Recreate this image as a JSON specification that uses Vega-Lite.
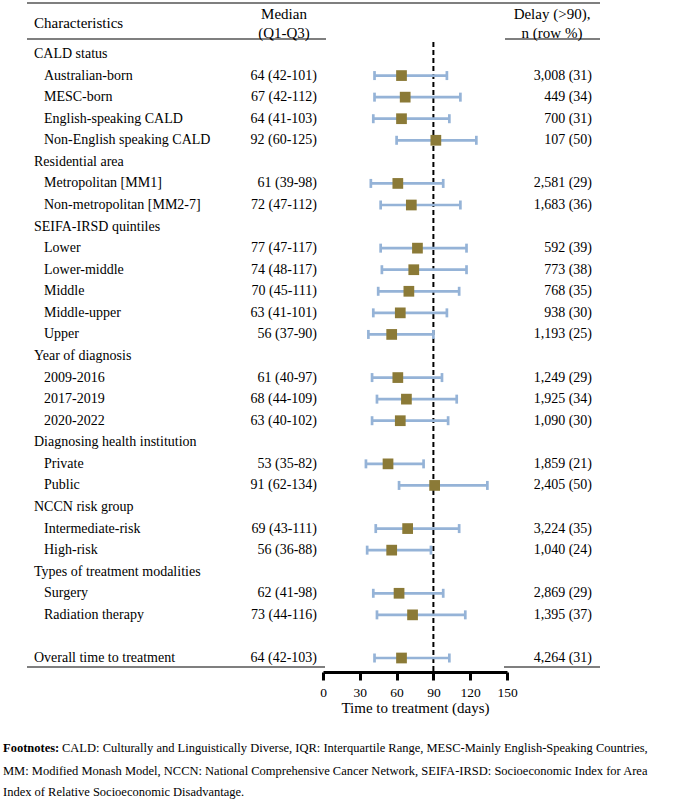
{
  "$schema": "https://vega.github.io/schema/vega-lite/v6.json",
  "width": 675,
  "height": 672,
  "autosize": {"type": "none"},
  "padding": {"left": 0, "top": 0, "right": 0, "bottom": 128},
  "background": "white",
  "config": {
    "view": {"stroke": null},
    "font": "Liberation Serif",
    "text": {"font": "Liberation Serif", "color": "#000"},
    "axisX": {
      "grid": false,
      "domainColor": "#000",
      "domainWidth": 3,
      "tickColor": "#000",
      "tickWidth": 3,
      "tickSize": 8,
      "labelFont": "Liberation Serif",
      "labelFontSize": 13.5,
      "labelColor": "#000",
      "labelPadding": 5,
      "labelFlush": false,
      "titleFont": "Liberation Serif",
      "titleFontSize": 15,
      "titleFontWeight": "normal",
      "titleColor": "#000",
      "titlePadding": 2
    }
  },
  "layer": [
    {
      "data": {"values": [{}]},
      "layer": [
        {"mark": {"type": "rule", "stroke": "#555", "strokeWidth": 1.3},
         "encoding": {"x": {"value": 27}, "x2": {"value": 600}, "y": {"value": 3}}},
        {"mark": {"type": "rule", "stroke": "#555", "strokeWidth": 1.3},
         "encoding": {"x": {"value": 27}, "x2": {"value": 326}, "y": {"value": 39}}},
        {"mark": {"type": "rule", "stroke": "#555", "strokeWidth": 1.3},
         "encoding": {"x": {"value": 505}, "x2": {"value": 600}, "y": {"value": 39}}},
        {"mark": {"type": "rule", "stroke": "#555", "strokeWidth": 1.3},
         "encoding": {"x": {"value": 27}, "x2": {"value": 325}, "y": {"value": 667}}},
        {"mark": {"type": "rule", "stroke": "#555", "strokeWidth": 1.3},
         "encoding": {"x": {"value": 504}, "x2": {"value": 600}, "y": {"value": 667}}},
        {"mark": {"type": "rule", "stroke": "#000", "strokeWidth": 2, "strokeDash": [5, 3]},
         "encoding": {
           "x": {"datum": 90, "type": "quantitative", "title": "Time to treatment (days)",
                 "scale": {"domain": [0, 150], "range": [323, 507], "nice": false, "zero": false},
                 "axis": {"values": [0, 30, 60, 90, 120, 150]}},
           "y": {"value": 42}, "y2": {"value": 672}}},
        {"mark": {"type": "text", "text": "Characteristics", "fontSize": 15, "align": "left", "baseline": "middle"},
         "encoding": {"x": {"value": 34}, "y": {"value": 23}}},
        {"mark": {"type": "text", "text": ["Median", "(Q1-Q3)"], "fontSize": 15, "lineHeight": 19, "align": "center", "baseline": "middle"},
         "encoding": {"x": {"value": 284}, "y": {"value": 14}}},
        {"mark": {"type": "text", "text": ["Delay (>90),", "n (row %)"], "fontSize": 15, "lineHeight": 19, "align": "center", "baseline": "middle"},
         "encoding": {"x": {"value": 552}, "y": {"value": 14}}},
        {"mark": {"type": "text", "text": "Footnotes:", "fontWeight": "bold", "fontSize": 12.5, "align": "left", "baseline": "middle"},
         "encoding": {"x": {"value": 3}, "y": {"value": 748}}},
        {"mark": {"type": "text", "text": "CALD: Culturally and Linguistically Diverse, IQR: Interquartile Range, MESC-Mainly English-Speaking Countries,", "fontSize": 12.5, "align": "left", "baseline": "middle"},
         "encoding": {"x": {"value": 62}, "y": {"value": 748}}},
        {"mark": {"type": "text", "text": "MM: Modified Monash Model, NCCN: National Comprehensive Cancer Network, SEIFA-IRSD: Socioeconomic Index for Area", "fontSize": 12.5, "align": "left", "baseline": "middle"},
         "encoding": {"x": {"value": 3}, "y": {"value": 771}}},
        {"mark": {"type": "text", "text": "Index of Relative Socioeconomic Disadvantage.", "fontSize": 12.5, "align": "left", "baseline": "middle"},
         "encoding": {"x": {"value": 3}, "y": {"value": 792}}}
      ]
    },
    {
      "data": {"values": [
        {"label": "CALD status", "kind": "group"},
        {"label": "Australian-born", "kind": "item", "median": 64, "q1": 42, "q3": 101, "n": 3008, "pct": 31},
        {"label": "MESC-born", "kind": "item", "median": 67, "q1": 42, "q3": 112, "n": 449, "pct": 34},
        {"label": "English-speaking CALD", "kind": "item", "median": 64, "q1": 41, "q3": 103, "n": 700, "pct": 31},
        {"label": "Non-English speaking CALD", "kind": "item", "median": 92, "q1": 60, "q3": 125, "n": 107, "pct": 50},
        {"label": "Residential area", "kind": "group"},
        {"label": "Metropolitan [MM1]", "kind": "item", "median": 61, "q1": 39, "q3": 98, "n": 2581, "pct": 29},
        {"label": "Non-metropolitan [MM2-7]", "kind": "item", "median": 72, "q1": 47, "q3": 112, "n": 1683, "pct": 36},
        {"label": "SEIFA-IRSD quintiles", "kind": "group"},
        {"label": "Lower", "kind": "item", "median": 77, "q1": 47, "q3": 117, "n": 592, "pct": 39},
        {"label": "Lower-middle", "kind": "item", "median": 74, "q1": 48, "q3": 117, "n": 773, "pct": 38},
        {"label": "Middle", "kind": "item", "median": 70, "q1": 45, "q3": 111, "n": 768, "pct": 35},
        {"label": "Middle-upper", "kind": "item", "median": 63, "q1": 41, "q3": 101, "n": 938, "pct": 30},
        {"label": "Upper", "kind": "item", "median": 56, "q1": 37, "q3": 90, "n": 1193, "pct": 25},
        {"label": "Year of diagnosis", "kind": "group"},
        {"label": "2009-2016", "kind": "item", "median": 61, "q1": 40, "q3": 97, "n": 1249, "pct": 29},
        {"label": "2017-2019", "kind": "item", "median": 68, "q1": 44, "q3": 109, "n": 1925, "pct": 34},
        {"label": "2020-2022", "kind": "item", "median": 63, "q1": 40, "q3": 102, "n": 1090, "pct": 30},
        {"label": "Diagnosing health institution", "kind": "group"},
        {"label": "Private", "kind": "item", "median": 53, "q1": 35, "q3": 82, "n": 1859, "pct": 21},
        {"label": "Public", "kind": "item", "median": 91, "q1": 62, "q3": 134, "n": 2405, "pct": 50},
        {"label": "NCCN risk group", "kind": "group"},
        {"label": "Intermediate-risk", "kind": "item", "median": 69, "q1": 43, "q3": 111, "n": 3224, "pct": 35},
        {"label": "High-risk", "kind": "item", "median": 56, "q1": 36, "q3": 88, "n": 1040, "pct": 24},
        {"label": "Types of treatment modalities", "kind": "group"},
        {"label": "Surgery", "kind": "item", "median": 62, "q1": 41, "q3": 98, "n": 2869, "pct": 29},
        {"label": "Radiation therapy", "kind": "item", "median": 73, "q1": 44, "q3": 116, "n": 1395, "pct": 37},
        {"label": "Overall time to treatment", "kind": "total", "median": 64, "q1": 42, "q3": 103, "n": 4264, "pct": 31}
      ]},
      "transform": [
        {"calculate": "isValid(datum.median) ? datum.median + ' (' + datum.q1 + '-' + datum.q3 + ')' : ''", "as": "iqr_text"},
        {"calculate": "isValid(datum.n) ? format(datum.n, ',') + ' (' + datum.pct + ')' : ''", "as": "delay_text"}
      ],
      "encoding": {
        "y": {
          "field": "label",
          "type": "nominal",
          "axis": null,
          "scale": {
            "type": "point",
            "padding": 0,
            "range": [54, 658],
            "domain": [
              "CALD status", "Australian-born", "MESC-born", "English-speaking CALD", "Non-English speaking CALD",
              "Residential area", "Metropolitan [MM1]", "Non-metropolitan [MM2-7]",
              "SEIFA-IRSD quintiles", "Lower", "Lower-middle", "Middle", "Middle-upper", "Upper",
              "Year of diagnosis", "2009-2016", "2017-2019", "2020-2022",
              "Diagnosing health institution", "Private", "Public",
              "NCCN risk group", "Intermediate-risk", "High-risk",
              "Types of treatment modalities", "Surgery", "Radiation therapy",
              " ", "Overall time to treatment"
            ]
          }
        }
      },
      "layer": [
        {
          "transform": [{"filter": "datum.kind !== 'item'"}],
          "mark": {"type": "text", "fontSize": 14, "align": "left", "baseline": "middle"},
          "encoding": {"x": {"value": 34}, "text": {"field": "label"}}
        },
        {
          "transform": [{"filter": "datum.kind === 'item'"}],
          "mark": {"type": "text", "fontSize": 14, "align": "left", "baseline": "middle"},
          "encoding": {"x": {"value": 44}, "text": {"field": "label"}}
        },
        {
          "transform": [{"filter": "isValid(datum.median)"}],
          "mark": {"type": "text", "fontSize": 14, "align": "right", "baseline": "middle"},
          "encoding": {"x": {"value": 317}, "text": {"field": "iqr_text"}}
        },
        {
          "transform": [{"filter": "isValid(datum.n)"}],
          "mark": {"type": "text", "fontSize": 14, "align": "right", "baseline": "middle"},
          "encoding": {"x": {"value": 592}, "text": {"field": "delay_text"}}
        },
        {
          "transform": [{"filter": "isValid(datum.median)"}],
          "mark": {"type": "rule", "stroke": "#95B3D7", "strokeWidth": 2.7},
          "encoding": {
            "x": {"field": "q1", "type": "quantitative", "title": "Time to treatment (days)"},
            "x2": {"field": "q3"}
          }
        },
        {
          "transform": [{"filter": "isValid(datum.median)"}],
          "mark": {"type": "tick", "orient": "vertical", "size": 9, "thickness": 2.7, "color": "#95B3D7", "opacity": 1},
          "encoding": {"x": {"field": "q1", "type": "quantitative", "title": "Time to treatment (days)"}}
        },
        {
          "transform": [{"filter": "isValid(datum.median)"}],
          "mark": {"type": "tick", "orient": "vertical", "size": 9, "thickness": 2.7, "color": "#95B3D7", "opacity": 1},
          "encoding": {"x": {"field": "q3", "type": "quantitative", "title": "Time to treatment (days)"}}
        },
        {
          "transform": [{"filter": "isValid(datum.median)"}],
          "mark": {"type": "square", "size": 115, "filled": true, "color": "#8B7A37", "opacity": 1},
          "encoding": {"x": {"field": "median", "type": "quantitative", "title": "Time to treatment (days)"}}
        }
      ]
    }
  ]
}
